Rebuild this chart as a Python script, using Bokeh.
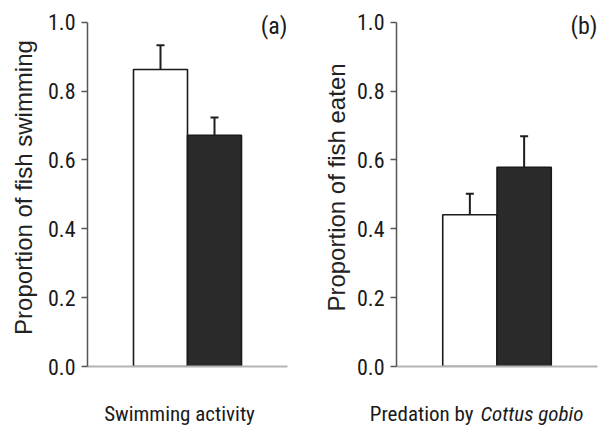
from bokeh.plotting import figure
from bokeh.layouts import row, column
from bokeh.models import (ColumnDataSource, Range1d, FixedTicker, PrintfTickFormatter,
                          Whisker, TeeHead, Label)
from bokeh.core.properties import value
from bokeh.embed import file_html
from bokeh.resources import INLINE

# ---- data ----
groups = ["Control", "Treatment"]
bar_fill = ["white", "#2a2a2a"]
swim_mean = [0.863, 0.672]
swim_err = [0.070, 0.051]
eaten_mean = [0.441, 0.579]
eaten_err = [0.061, 0.090]
y_ticks = [0.0, 0.2, 0.4, 0.6, 0.8, 1.0]
panel_letters = ["(a)", "(b)"]
y_titles = ["Proportion of fish swimming", "Proportion of fish eaten"]
x_title_a = "Swimming activity"
x_title_b_plain = "Predation by"
x_title_b_italic = "Cottus gobio"

COND = "'Roboto Condensed', 'Liberation Sans Narrow', 'Liberation Sans', sans-serif"
REG = "'Liberation Sans', sans-serif"
INK = "#1a1a1a"
BAR_POS = [0.365, 0.635]
BAR_W = 0.27
TOP_H = 378
STRIP_H = 48


def make_panel(means, errs, width, left_border, right_border, letter, ytitle,
               title_standoff):
    p = figure(width=width, height=TOP_H, output_backend="svg", toolbar_location=None,
               x_range=Range1d(0, 1), y_range=Range1d(0, 1.04),
               min_border_left=left_border, min_border_right=right_border,
               min_border_top=8, min_border_bottom=12)
    p.outline_line_color = None
    p.xgrid.visible = False
    p.ygrid.visible = False

    upper = [m + e for m, e in zip(means, errs)]
    src = ColumnDataSource(dict(x=BAR_POS, top=means, upper=upper, fill=bar_fill,
                                group=groups))

    p.add_layout(Whisker(base="x", lower="top", upper="upper", source=src,
                         lower_head=None,
                         upper_head=TeeHead(size=8, line_width=2, line_color="#1e1e1e"),
                         line_width=2, line_color="#1e1e1e"))

    p.vbar(x="x", top="top", bottom=0, width=BAR_W, source=src,
           fill_color="fill", line_color=INK, line_width=1.6)

    # x axis: only a grey base line
    p.xaxis.ticker = FixedTicker(ticks=[])
    p.xaxis.axis_line_color = "#b4b4b4"
    p.xaxis.axis_line_width = 2
    p.xaxis.major_tick_line_color = None
    p.xaxis.minor_tick_line_color = None
    p.xaxis.major_tick_out = 0
    p.xaxis.minor_tick_out = 0
    p.xaxis.major_label_standoff = 0

    # y axis
    p.yaxis.ticker = FixedTicker(ticks=y_ticks)
    p.yaxis.formatter = PrintfTickFormatter(format="%.1f")
    p.yaxis.bounds = (0, 1)
    p.yaxis.axis_line_color = "#555555"
    p.yaxis.axis_line_width = 1.5
    p.yaxis.major_tick_line_color = "#555555"
    p.yaxis.major_tick_line_width = 1.5
    p.yaxis.major_tick_out = 6
    p.yaxis.major_tick_in = 0
    p.yaxis.minor_tick_line_color = None
    p.yaxis.major_label_text_font = COND
    p.yaxis.major_label_text_font_size = "22px"
    p.yaxis.major_label_text_color = INK
    p.yaxis.major_label_standoff = 6
    p.yaxis.axis_label = ytitle
    p.yaxis.axis_label_text_font = REG
    p.yaxis.axis_label_text_font_size = "24px"
    p.yaxis.axis_label_text_font_style = "normal"
    p.yaxis.axis_label_text_color = "#222222"
    p.yaxis.axis_label_standoff = title_standoff

    p.add_layout(Label(x=1.0, y=0.988, text=letter, text_align="right",
                       text_baseline="middle", text_font=COND,
                       text_font_size="24px", text_color=INK))
    return p


p1 = make_panel(swim_mean, swim_err, 300, 87, 13, panel_letters[0], y_titles[0], 8)
p2 = make_panel(eaten_mean, eaten_err, 304, 96, 7, panel_letters[1], y_titles[1], 4)

# strip under both panels holding the x titles (pixel-like coordinates)
strip = figure(width=604, height=STRIP_H, output_backend="svg", toolbar_location=None,
               x_range=Range1d(0, 604), y_range=Range1d(STRIP_H, 0),
               x_axis_type=None, y_axis_type=None,
               min_border_left=0, min_border_right=0, min_border_top=0,
               min_border_bottom=0)
strip.outline_line_color = None
strip.xgrid.visible = False
strip.ygrid.visible = False
strip.text(x=[179], y=[35], text=[x_title_a], text_align="center",
           text_baseline="alphabetic", text_font=value(COND), text_font_size="21px",
           text_color=INK)
strip.text(x=[473], y=[35], text=[x_title_b_plain], text_align="right",
           text_baseline="alphabetic", text_font=value(COND), text_font_size="21px",
           text_color=INK)
strip.text(x=[480], y=[35], text=[x_title_b_italic], text_align="left",
           text_baseline="alphabetic", text_font=value(COND), text_font_size="21px",
           text_font_style="italic", text_color=INK)

layout = column(row(p1, p2), strip)
open("out.html", "w").write(file_html(layout, INLINE))
